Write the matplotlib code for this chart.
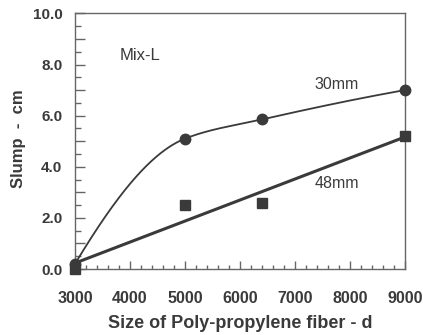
import numpy as np
import matplotlib
matplotlib.use("Agg")
import matplotlib.pyplot as plt
from matplotlib.ticker import MultipleLocator, FuncFormatter

# Data
size_d = [3000, 5000, 6400, 9000]
slump_30mm = [0.2, 5.1, 5.85, 7.0]
slump_48mm = [0.0, 2.5, 2.6, 5.2]
xticks = [3000, 4000, 5000, 6000, 7000, 8000, 9000]

plt.rcParams['font.family'] = ['Liberation Sans', 'DejaVu Sans']
grey = '#3a3a3a'


def pchip(x, y, xs):
    x = np.asarray(x, float); y = np.asarray(y, float)
    h = np.diff(x); d = np.diff(y) / h
    n = len(x)
    m = np.zeros(n)
    for k in range(1, n - 1):
        if d[k - 1] * d[k] > 0:
            w1 = 2 * h[k] + h[k - 1]; w2 = h[k] + 2 * h[k - 1]
            m[k] = (w1 + w2) / (w1 / d[k - 1] + w2 / d[k])

    def end(h0, h1, d0, d1):
        s = ((2 * h0 + h1) * d0 - h0 * d1) / (h0 + h1)
        if np.sign(s) != np.sign(d0):
            s = 0
        elif np.sign(d0) != np.sign(d1) and abs(s) > abs(3 * d0):
            s = 3 * d0
        return s
    m[0] = end(h[0], h[1], d[0], d[1])
    m[-1] = end(h[-1], h[-2], d[-1], d[-2])
    out = np.empty_like(xs)
    for j, xv in enumerate(xs):
        i = min(max(np.searchsorted(x, xv) - 1, 0), n - 2)
        t = (xv - x[i]) / h[i]
        h00 = 2 * t**3 - 3 * t**2 + 1; h10 = t**3 - 2 * t**2 + t
        h01 = -2 * t**3 + 3 * t**2; h11 = t**3 - t**2
        out[j] = h00 * y[i] + h10 * h[i] * m[i] + h01 * y[i + 1] + h11 * h[i] * m[i + 1]
    return out


fig = plt.figure(figsize=(4.23, 3.35), dpi=100)
ax = fig.add_axes([0.1773, 0.197, 0.7801, 0.763])

xs = np.linspace(size_d[0], size_d[-1], 400)
ax.plot(xs, pchip(size_d, slump_30mm, xs), color=grey, lw=1.3, zorder=2)
coef = np.polyfit(size_d, slump_48mm, 1)
ax.plot(xs, np.polyval(coef, xs), color=grey, lw=2.2, zorder=2)

ax.plot(size_d, slump_30mm, 'o', color=grey, ms=7.5, clip_on=False, zorder=3)
ax.plot(size_d, slump_48mm, 's', color=grey, ms=7.5, clip_on=False, zorder=3)

ax.set_xlim(3000, 9000)
ax.set_ylim(0, 10)
ax.xaxis.set_minor_locator(MultipleLocator(200))
ax.set_xticks(xticks)
ax.yaxis.set_major_locator(MultipleLocator(1.0))
ax.yaxis.set_minor_locator(MultipleLocator(0.5))
ax.yaxis.set_major_formatter(FuncFormatter(lambda v, p: f"{v:.1f}" if round(v) % 2 == 0 else ""))

ax.tick_params(axis='x', which='major', direction='in', length=6, width=1, color='#666666',
               pad=16, labelsize=11.5, labelcolor=grey)
ax.tick_params(axis='x', which='minor', direction='in', length=3, width=1, color='#666666')
ax.tick_params(axis='y', which='major', direction='in', length=7, width=1, color='#666666',
               pad=9, labelsize=11, labelcolor=grey)
ax.tick_params(axis='y', which='minor', direction='in', length=4, width=1, color='#666666')
for lbl in ax.get_xticklabels() + ax.get_yticklabels():
    lbl.set_fontweight('bold')

for sp in ax.spines.values():
    sp.set_color('#666666')
    sp.set_linewidth(1.0)

ax.set_xlabel('Size of Poly-propylene fiber - d', fontsize=13, fontweight='bold', color=grey, va='center')
ax.xaxis.set_label_coords(0.5, -0.215)
ax.set_ylabel('Slump  -  cm', fontsize=12, fontweight='bold', color=grey, va='center')
ax.yaxis.set_label_coords(-0.17, 0.508)

ax.text(3820, 8.36, 'Mix-L', fontsize=12, color=grey, va='center', ha='left')
ax.text(7760, 7.2, '30mm', fontsize=11.5, color=grey, va='center', ha='center')
ax.text(7760, 3.35, '48mm', fontsize=11.5, color=grey, va='center', ha='center')

fig.savefig('out.png', dpi=100)
